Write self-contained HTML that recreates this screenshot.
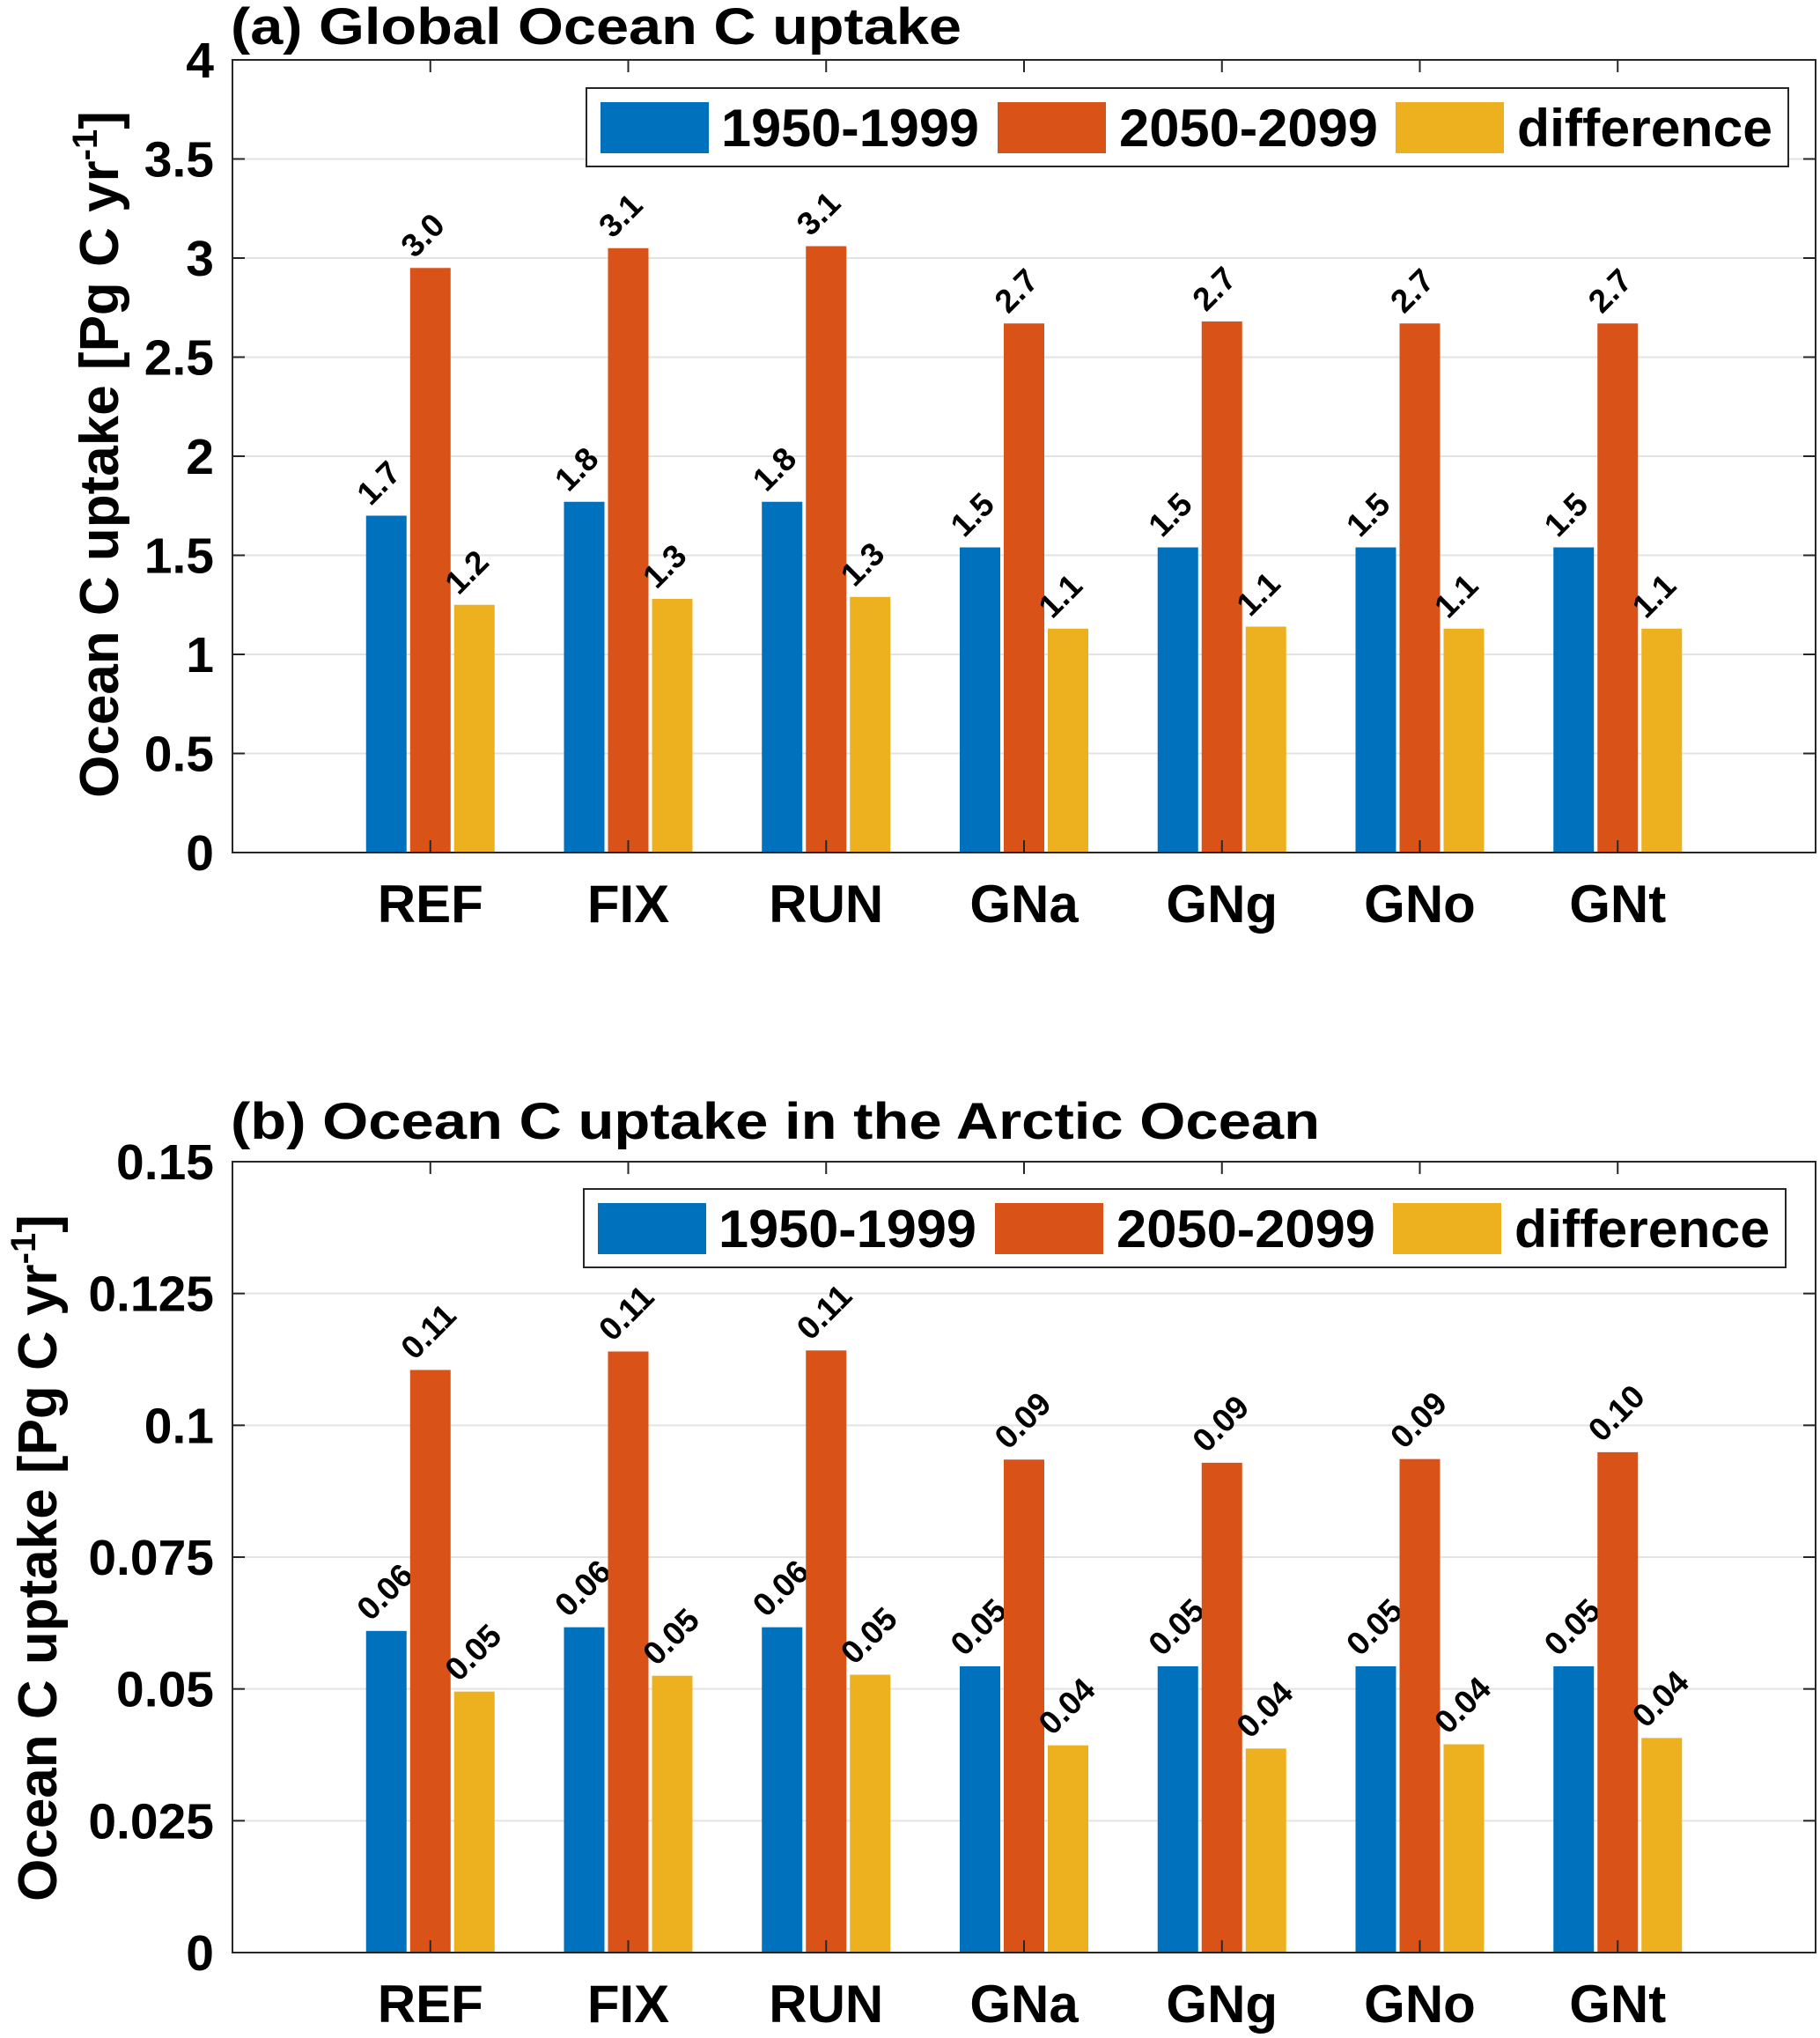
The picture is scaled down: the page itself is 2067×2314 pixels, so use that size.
<!DOCTYPE html>
<html><head><meta charset="utf-8"><style>
html,body{margin:0;padding:0;background:#fff}
svg{display:block}
text{font-family:"Liberation Sans",Arial,sans-serif;font-weight:bold;fill:#000}
</style></head><body>
<svg id="chart" xmlns="http://www.w3.org/2000/svg" width="2067" height="2314" viewBox="0 0 2067 2314"></svg>
<script>
const categories = ["REF","FIX","RUN","GNa","GNg","GNo","GNt"];
const seriesNames = ["1950-1999","2050-2099","difference"];
const seriesColors = ["#0072BD","#D95319","#EDB120"];
const aPast = [1.70,1.77,1.77,1.54,1.54,1.54,1.54];
const aFuture = [2.95,3.05,3.06,2.67,2.68,2.67,2.67];
const aDiff = [1.25,1.28,1.29,1.13,1.14,1.13,1.13];
const aPastLbl = ["1.7","1.8","1.8","1.5","1.5","1.5","1.5"];
const aFutureLbl = ["3.0","3.1","3.1","2.7","2.7","2.7","2.7"];
const aDiffLbl = ["1.2","1.3","1.3","1.1","1.1","1.1","1.1"];
const aTicks = [0,0.5,1,1.5,2,2.5,3,3.5,4];
const aTickLbl = ["0","0.5","1","1.5","2","2.5","3","3.5","4"];
const bPast = [0.0610,0.0617,0.0617,0.0543,0.0543,0.0543,0.0543];
const bFuture = [0.1105,0.1140,0.1142,0.0935,0.0929,0.0936,0.0949];
const bDiff = [0.0495,0.0525,0.0527,0.0393,0.0387,0.0395,0.0407];
const bPastLbl = ["0.06","0.06","0.06","0.05","0.05","0.05","0.05"];
const bFutureLbl = ["0.11","0.11","0.11","0.09","0.09","0.09","0.10"];
const bDiffLbl = ["0.05","0.05","0.05","0.04","0.04","0.04","0.04"];
const bTicks = [0,0.025,0.05,0.075,0.1,0.125,0.15];
const bTickLbl = ["0","0.025","0.05","0.075","0.1","0.125","0.15"];

const NS="http://www.w3.org/2000/svg";
const svg=document.getElementById('chart');
function mk(tag,attrs,parent,txt){const e=document.createElementNS(NS,tag);for(const k in attrs)e.setAttribute(k,attrs[k]);if(txt!==undefined)e.textContent=txt;(parent||svg).appendChild(e);return e;}

function panel(p){
  const g=mk('g',{});
  
  
  const L=264,R=2062,T=p.top,B=p.bottom;
  const x=v=>L+(R-L)*v/8;
  const y=v=>B-(B-T)*v/p.ymax;
  p.ticks.forEach((t,i)=>{
    if(t>0&&t<p.ymax){const gl=mk('line',{x1:L,x2:R,y1:y(t),y2:y(t),stroke:'#e3e3e3','stroke-width':2},g);
      }
    const tk=mk('line',{x1:L,x2:L+14,y1:y(t),y2:y(t),stroke:'#262626','stroke-width':2},g);
    
    mk('line',{x1:R,x2:R-14,y1:y(t),y2:y(t),stroke:'#262626','stroke-width':2},g);
    const tl=mk('text',{x:243,y:y(t)+20,'text-anchor':'end','font-size':57,fill:'#262626'},g,p.tickLbl[i]);
    
  });
  const series=[p.s0,p.s1,p.s2], labels=[p.l0,p.l1,p.l2];
  const bw=46, off=[-50,0,50];
  categories.forEach((c,i)=>{
    const cx=x(i+1);
    series.forEach((s,k)=>{
      const bx=cx+off[k]-bw/2, top=y(s[i]);
      const r=mk('rect',{x:bx,y:top,width:bw,height:B-top,fill:seriesColors[k]},g);
      
      
      const lx=cx+off[k]-18, ly=top-10;
      const t=mk('text',{x:lx,y:ly,'font-size':37,transform:`rotate(-45 ${lx} ${ly})`},g,labels[k][i]);
      
      
    });
    mk('line',{x1:cx,x2:cx,y1:B,y2:B-14,stroke:'#262626','stroke-width':2},g);
    mk('line',{x1:cx,x2:cx,y1:T,y2:T+14,stroke:'#262626','stroke-width':2},g);
    const xl=mk('text',{x:cx,y:B+79,'text-anchor':'middle','font-size':60,fill:'#262626'},g,c);
    
    
  });
  const box=mk('rect',{x:L,y:T,width:R-L,height:B-T,fill:'none',stroke:'#262626','stroke-width':2},g);
  
  const ti=mk('text',{x:262,y:p.titleY,'font-size':58,textLength:p.titleLen,lengthAdjust:'spacingAndGlyphs'},g,p.title);
  
  const yl=mk('text',{x:0,y:0,'font-size':62,fill:'#262626','text-anchor':'middle',transform:`translate(${p.ylx} ${p.yly}) rotate(-90)`},g);
  
  yl.appendChild(document.createTextNode('Ocean C uptake [Pg C yr'));
  mk('tspan',{'font-size':40,dy:-24},yl,'-1');
  mk('tspan',{dy:24},yl,']');
  const lg=mk('g',{},g);
  
  mk('rect',{x:p.legX,y:p.legY,width:1365,height:89,fill:'#fff',stroke:'#262626','stroke-width':2},lg);
  const sw=[p.legX+16,p.legX+467,p.legX+919], tx=[p.legX+153,p.legX+605,p.legX+1057], tl=[293,294,290];
  seriesNames.forEach((n,k)=>{
    const s=mk('rect',{x:sw[k],y:p.legY+16,width:123,height:58,fill:seriesColors[k]},lg);
    
    const t=mk('text',{x:tx[k],y:p.legY+66,'font-size':60,textLength:tl[k],lengthAdjust:'spacingAndGlyphs'},lg,n);
    
  });
}
panel({name:'panel-a-global',top:68,bottom:968,ymax:4,ticks:aTicks,tickLbl:aTickLbl,s0:aPast,s1:aFuture,s2:aDiff,l0:aPastLbl,l1:aFutureLbl,l2:aDiffLbl,title:'(a) Global Ocean C uptake',titleLen:830,titleY:50,ylx:134,yly:516,legX:666,legY:100});
panel({name:'panel-b-arctic',top:1319,bottom:2217,ymax:0.15,ticks:bTicks,tickLbl:bTickLbl,s0:bPast,s1:bFuture,s2:bDiff,l0:bPastLbl,l1:bFutureLbl,l2:bDiffLbl,title:'(b) Ocean C uptake in the Arctic Ocean',titleLen:1237,titleY:1293,ylx:64,yly:1769,legX:663,legY:1350});
</script>
</body></html>
